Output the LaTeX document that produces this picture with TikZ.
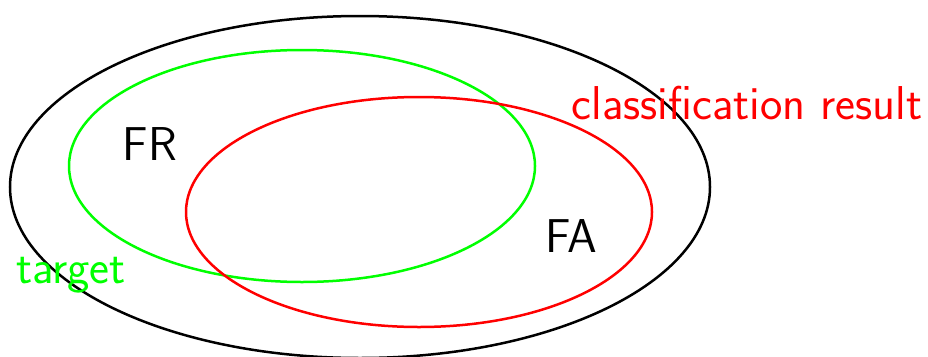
\documentclass[tikz,border=0pt]{standalone}
\usepackage{tikz}

\begin{document}
\begin{tikzpicture}[
  x=1pt,
  y=-1pt,
  set/.style={line width=2.5pt},
  lab/.style={font=\sffamily\fontsize{47.5}{55}\selectfont,inner sep=0pt,anchor=base}
]
\useasboundingbox (0,0) rectangle (928,356);
\draw[set,black] (360,187) ellipse[x radius=350pt,y radius=171pt];
\draw[set,green] (302,166) ellipse[x radius=233pt,y radius=116pt];
\draw[set,red] (419,212) ellipse[x radius=233pt,y radius=115pt];
\node[lab] (fr) at (150,160) {FR};
\node[lab] (fa) at (571,252) {FA};
\node[lab,text=green] (target) at (71,283) {target};
\node[lab,text=red] (result) at (747,119) {classification result};
\end{tikzpicture}
\end{document}
